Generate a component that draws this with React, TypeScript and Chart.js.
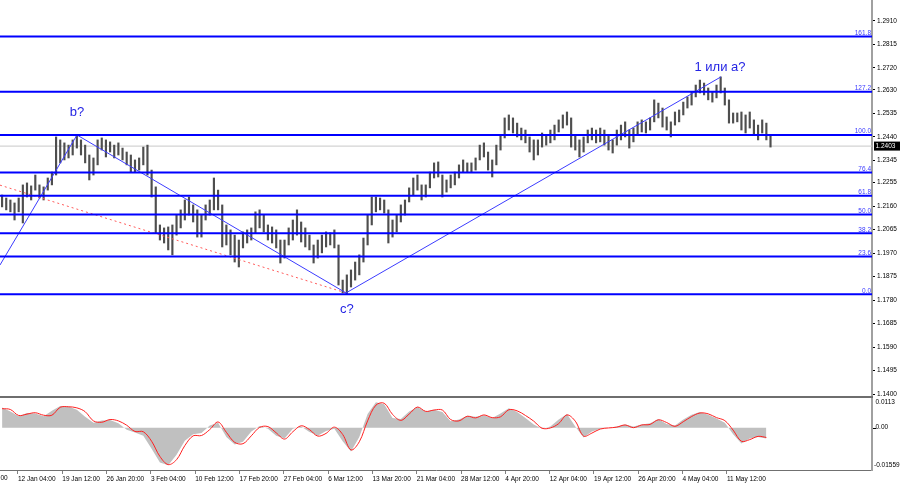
import React, { useEffect, useRef } from 'react';
import { Chart, registerables } from 'chart.js';

Chart.register(...registerables);

// ---- price data (H4 candles grouped by 3 bars): highs and lows ----
const candleHigh = [
  1.2205, 1.2193, 1.2185, 1.2173, 1.2193, 1.2246, 1.2254, 1.2242, 1.2286, 1.2246,
  1.2238, 1.2274, 1.2298, 1.2440, 1.2428, 1.2416, 1.2407, 1.2428, 1.2448, 1.2428,
  1.2407, 1.2367, 1.2355, 1.2428, 1.2436, 1.2428, 1.2420, 1.2407, 1.2416, 1.2395,
  1.2379, 1.2367, 1.2347, 1.2355, 1.2399, 1.2407, 1.2306, 1.2238, 1.2084, 1.2072,
  1.2076, 1.2084, 1.2124, 1.2145, 1.2185, 1.2197, 1.2165, 1.2145, 1.2124, 1.2165,
  1.2185, 1.2274, 1.2225, 1.2165, 1.2084, 1.2064, 1.2043, 1.2023, 1.2056, 1.2064,
  1.2072, 1.2137, 1.2145, 1.2124, 1.2084, 1.2076, 1.2064, 1.2023, 1.2023, 1.2072,
  1.2104, 1.2145, 1.2096, 1.2072, 1.2043, 1.2003, 1.2023, 1.2043, 1.2056, 1.2052,
  1.2064, 1.2003, 1.1861, 1.1882, 1.1902, 1.1934, 1.1963, 1.2031, 1.2124, 1.2197,
  1.2197, 1.2193, 1.2185, 1.2145, 1.2104, 1.2124, 1.2165, 1.2185, 1.2234, 1.2274,
  1.2286, 1.2246, 1.2246, 1.2298, 1.2335, 1.2339, 1.2286, 1.2266, 1.2286, 1.2298,
  1.2327, 1.2347, 1.2335, 1.2335, 1.2355, 1.2407, 1.2416, 1.2379, 1.2347, 1.2407,
  1.2448, 1.2517, 1.2529, 1.2517, 1.2496, 1.2476, 1.2468, 1.2440, 1.2428, 1.2428,
  1.2456, 1.2448, 1.2468, 1.2488, 1.2509, 1.2529, 1.2541, 1.2517, 1.2448, 1.2428,
  1.2440, 1.2468, 1.2476, 1.2468, 1.2476, 1.2468, 1.2448, 1.2428, 1.2468, 1.2488,
  1.2501, 1.2468, 1.2476, 1.2501, 1.2509, 1.2501, 1.2517, 1.2590, 1.2577, 1.2557,
  1.2521, 1.2501, 1.2541, 1.2549, 1.2581, 1.2602, 1.2622, 1.2650, 1.2670, 1.2658,
  1.2638, 1.2622, 1.2650, 1.2683, 1.2638, 1.2590, 1.2537, 1.2537, 1.2541, 1.2529,
  1.2541, 1.2509, 1.2488, 1.2509, 1.2496, 1.2448,
];
const candleLow = [
  1.2157, 1.2145, 1.2137, 1.2104, 1.2137, 1.2092, 1.2197, 1.2185, 1.2225, 1.2193,
  1.2185, 1.2225, 1.2246, 1.2286, 1.2335, 1.2347, 1.2355, 1.2367, 1.2395, 1.2367,
  1.2335, 1.2266, 1.2286, 1.2327, 1.2387, 1.2359, 1.2379, 1.2355, 1.2367, 1.2347,
  1.2327, 1.2298, 1.2298, 1.2306, 1.2327, 1.2286, 1.2197, 1.2052, 1.2023, 1.2011,
  1.1983, 1.1963, 1.2043, 1.2072, 1.2104, 1.2124, 1.2096, 1.2035, 1.2035, 1.2104,
  1.2124, 1.2145, 1.2145, 1.1995, 1.2003, 1.1963, 1.1934, 1.1914, 1.1991, 1.2011,
  1.2023, 1.2052, 1.2072, 1.2056, 1.2023, 1.2011, 1.1991, 1.1930, 1.1950, 1.2003,
  1.2023, 1.2043, 1.2015, 1.1995, 1.1983, 1.1930, 1.1950, 1.1971, 1.1995, 1.2003,
  1.1991, 1.1841, 1.1809, 1.1805, 1.1833, 1.1861, 1.1882, 1.1934, 1.2003, 1.2084,
  1.2137, 1.2145, 1.2132, 1.2011, 1.2035, 1.2056, 1.2096, 1.2124, 1.2177, 1.2205,
  1.2225, 1.2185, 1.2197, 1.2234, 1.2274, 1.2278, 1.2197, 1.2217, 1.2234, 1.2246,
  1.2274, 1.2298, 1.2298, 1.2298, 1.2306, 1.2347, 1.2359, 1.2306, 1.2278, 1.2327,
  1.2387, 1.2436, 1.2468, 1.2456, 1.2440, 1.2428, 1.2416, 1.2379, 1.2347, 1.2367,
  1.2399, 1.2407, 1.2416, 1.2428, 1.2460, 1.2476, 1.2488, 1.2399, 1.2387, 1.2359,
  1.2379, 1.2416, 1.2428, 1.2416, 1.2420, 1.2407, 1.2387, 1.2375, 1.2407, 1.2428,
  1.2440, 1.2395, 1.2420, 1.2448, 1.2460, 1.2456, 1.2468, 1.2501, 1.2517, 1.2480,
  1.2468, 1.2440, 1.2488, 1.2501, 1.2529, 1.2557, 1.2569, 1.2602, 1.2618, 1.2610,
  1.2590, 1.2581, 1.2598, 1.2618, 1.2569, 1.2496, 1.2496, 1.2501, 1.2468, 1.2456,
  1.2476, 1.2448, 1.2428, 1.2456, 1.2428, 1.2399,
];
const CANDLE_STEP = 3; // H4 bars per drawn candle

// ---- oscillator (histogram + signal), one value every 6 H4 bars ----
const oscHist = [
  0.0074, 0.0060, 0.0042, 0.0054, 0.0052, 0.0042, 0.0062, 0.0080, 0.0078, 0.0066,
  0.0040, 0.0018, 0.0026, 0.0028, 0.0016, -0.0008, -0.0018, -0.0030, -0.0078, -0.0128,
  -0.0138, -0.0100, -0.0048, -0.0024, -0.0020, 0.0008, 0.0018, -0.0034, -0.0062, -0.0052,
  -0.0014, 0.0006, -0.0004, -0.0030, -0.0040, -0.0004, 0.0004, -0.0016, -0.0030, -0.0012,
  -0.0004, -0.0050, -0.0088, -0.0034, 0.0050, 0.0094, 0.0086, 0.0036, 0.0032, 0.0060,
  0.0076, 0.0060, 0.0066, 0.0058, 0.0024, 0.0030, 0.0044, 0.0040, 0.0046, 0.0036,
  0.0052, 0.0072, 0.0058, 0.0036, 0.0012, -0.0004, 0.0004, 0.0030, 0.0050, 0.0004,
  -0.0036, -0.0014, -0.0004, 0.0000, 0.0004, 0.0012, 0.0004, 0.0012, 0.0016, 0.0032,
  0.0014, 0.0008, 0.0030, 0.0048, 0.0058, 0.0048, 0.0034, 0.0018, -0.0024, -0.0058,
  -0.0040, -0.0034, -0.0040,
];
const oscSignal = [
  0.0070, 0.0067, 0.0045, 0.0050, 0.0055, 0.0046, 0.0046, 0.0075, 0.0077, 0.0073,
  0.0059, 0.0025, 0.0020, 0.0030, 0.0025, 0.0009, -0.0014, -0.0015, -0.0050, -0.0106,
  -0.0136, -0.0118, -0.0066, -0.0030, -0.0029, -0.0007, 0.0021, -0.0017, -0.0054, -0.0059,
  -0.0030, 0.0001, 0.0004, -0.0019, -0.0042, -0.0015, 0.0007, -0.0007, -0.0031, -0.0021,
  0.0002, -0.0025, -0.0082, -0.0052, 0.0025, 0.0083, 0.0090, 0.0049, 0.0027, 0.0050,
  0.0076, 0.0060, 0.0065, 0.0065, 0.0030, 0.0025, 0.0042, 0.0036, 0.0047, 0.0037,
  0.0040, 0.0066, 0.0062, 0.0045, 0.0024, -0.0002, -0.0001, 0.0015, 0.0047, 0.0024,
  -0.0031, -0.0020, -0.0005, -0.0001, 0.0002, 0.0010, 0.0000, 0.0010, 0.0012, 0.0029,
  0.0019, 0.0005, 0.0022, 0.0041, 0.0054, 0.0051, 0.0037, 0.0026, -0.0009, -0.0050,
  -0.0044, -0.0032, -0.0036,
];
const OSC_STEP = 6;

// ---- axes ----
const X_MIN = 0;
const X_MAX = 629.8;
const xTickBars = [13, 45, 77, 109, 141, 173, 205, 237, 269, 301, 333, 365, 397, 429, 461, 493, 525];
const xTickLabels = [
  '12 Jan 04:00', '19 Jan 12:00', '26 Jan 20:00', '3 Feb 04:00', '10 Feb 12:00', '17 Feb 20:00',
  '27 Feb 04:00', '6 Mar 12:00', '13 Mar 20:00', '21 Mar 04:00', '28 Mar 12:00', '4 Apr 20:00',
  '12 Apr 04:00', '19 Apr 12:00', '26 Apr 20:00', '4 May 04:00', '11 May 12:00',
];
const xPartialBar = -19;
const xPartialLabel = '4 Jan 20:00';
const Y_MIN = 1.1388;
const Y_MAX = 1.2994;
const yTicks = [
  1.1400, 1.1495, 1.1590, 1.1685, 1.1780, 1.1875, 1.1970, 1.2065, 1.2160,
  1.2255, 1.2345, 1.2440, 1.2535, 1.2630, 1.2720, 1.2815, 1.2910,
];
const OSC_MIN = -0.01559;
const OSC_MAX = 0.0113;
const oscTickLabels = ['0.0113', '0.00', '-0.01559'];

// ---- fibonacci grid ----
const fibLow = 1.1804;
const fibHigh = 1.2448;
const fibLevels = [0, 23.6, 38.2, 50, 61.8, 76.4, 100, 127.2, 161.8];
const fibLabels = ['0.0', '23.6', '38.2', '50.0', '61.8', '76.4', '100.0', '127.2', '161.8'];

// ---- wave lines and marks ----
const waveX = [0, 55.6, 249.9, 520.7];
const waveY = [1.1922, 1.2448, 1.1809, 1.2683];
const trendX = [0, 249.9];
const trendY = [1.2245, 1.1809];
const lastPrice = 1.2403;
const markTexts = ['b?', 'c?', '1 или a?'];
const markX = [55.6, 250.6, 520];
const markY = [1.2541, 1.1744, 1.2723];

const FONT = '"Liberation Sans", Arial, sans-serif';

const decorPlugin = {
  id: 'decor',
  afterDraw(chart: any) {
    const { ctx, chartArea } = chart;
    const x = chart.scales.x;
    const y = chart.scales.y;
    const y2 = chart.scales.y2;
    ctx.save();

    // fib labels
    ctx.font = `6.5px ${FONT}`;
    ctx.fillStyle = '#3a3aff';
    ctx.textAlign = 'right';
    ctx.textBaseline = 'alphabetic';
    fibLevels.forEach((r, i) => {
      const p = fibLow + (r / 100) * (fibHigh - fibLow);
      const py = y.getPixelForValue(p);
      ctx.fillText(fibLabels[i], chartArea.right - 1, py - 1.5);
    });

    // panel separator
    ctx.fillStyle = '#6e6e6e';
    ctx.fillRect(0, y.bottom - 1, chartArea.right + 1, 2);

    // last price box
    const lp = y.getPixelForValue(lastPrice);
    ctx.fillStyle = '#000';
    ctx.fillRect(chartArea.right + 2, lp - 4.5, 26, 9);
    ctx.fillStyle = '#fff';
    ctx.textAlign = 'left';
    ctx.textBaseline = 'middle';
    ctx.font = `6.5px ${FONT}`;
    ctx.fillText(lastPrice.toFixed(4), chartArea.right + 3.5, lp + 0.5);

    // oscillator axis labels
    ctx.fillStyle = '#000';
    const oy = [y2.top + 5, y2.getPixelForValue(0), y2.bottom - 4.5];
    oscTickLabels.forEach((t, i) => {
      ctx.fillText(t, chartArea.right + (i === 2 ? 2 : 3.5), oy[i]);
    });
    ctx.fillRect(chartArea.right + 1, Math.round(oy[1]), 3, 1);

    // partial x label at the left edge
    ctx.textBaseline = 'top';
    ctx.fillText(xPartialLabel, x.getPixelForValue(xPartialBar), chartArea.bottom + 5);

    // wave marks
    ctx.font = `13px ${FONT}`;
    ctx.fillStyle = 'rgb(36,36,228)';
    ctx.textAlign = 'center';
    ctx.textBaseline = 'middle';
    markTexts.forEach((t, i) => {
      ctx.fillText(t, x.getPixelForValue(markX[i]), y.getPixelForValue(markY[i]));
    });
    ctx.restore();
  },
};

export default function App() {
  const ref = useRef<HTMLCanvasElement | null>(null);

  useEffect(() => {
    document.body.style.margin = '0';
    if (!ref.current) return;

    const candleData = candleHigh.map((h, i) => ({
      x: CANDLE_STEP * i + CANDLE_STEP / 2,
      y: [candleLow[i], h],
    }));
    const histData = oscHist.map((v, j) => ({ x: OSC_STEP * j + CANDLE_STEP / 2, y: v }));
    const sigData = oscSignal.map((v, j) => ({ x: OSC_STEP * j + CANDLE_STEP / 2, y: v }));

    const fibSets = fibLevels.map((r) => {
      const p = fibLow + (r / 100) * (fibHigh - fibLow);
      return {
        type: 'line' as const,
        data: [{ x: X_MIN, y: p }, { x: X_MAX, y: p }],
        borderColor: '#0000ff',
        borderWidth: 2,
        pointRadius: 0,
        yAxisID: 'y',
        order: 1,
      };
    });

    const chart = new Chart(ref.current, {
      type: 'bar',
      data: {
        datasets: [
          {
            type: 'bar',
            data: candleData as any,
            backgroundColor: '#4e4e4e',
            borderWidth: 0,
            barThickness: 1.5,
            grouped: false,
            yAxisID: 'y',
            order: 5,
          } as any,
          {
            type: 'line',
            data: [{ x: X_MIN, y: lastPrice }, { x: X_MAX, y: lastPrice }],
            borderColor: '#c8c8c8',
            borderWidth: 1,
            pointRadius: 0,
            yAxisID: 'y',
            order: 8,
          },
          ...fibSets,
          {
            type: 'line',
            data: waveX.map((v, i) => ({ x: v, y: waveY[i] })),
            borderColor: '#3c3cff',
            borderWidth: 1,
            pointRadius: 0,
            yAxisID: 'y',
            order: 2,
          },
          {
            type: 'line',
            data: trendX.map((v, i) => ({ x: v, y: trendY[i] })),
            borderColor: '#ff5a5a',
            borderWidth: 1,
            borderDash: [2, 3],
            pointRadius: 0,
            yAxisID: 'y',
            order: 2,
          },
          {
            type: 'line',
            data: histData,
            borderWidth: 0,
            borderColor: 'rgba(0,0,0,0)',
            backgroundColor: '#c0c0c0',
            fill: 'origin',
            pointRadius: 0,
            yAxisID: 'y2',
            order: 7,
          },
          {
            type: 'line',
            data: sigData,
            borderColor: '#ff2020',
            borderWidth: 1,
            tension: 0.35,
            pointRadius: 0,
            fill: false,
            yAxisID: 'y2',
            order: 6,
          },
        ] as any,
      },
      options: {
        responsive: false,
        devicePixelRatio: 1,
        animation: false,
        events: [],
        layout: { padding: 0 },
        plugins: { legend: { display: false }, tooltip: { enabled: false } },
        scales: {
          x: {
            type: 'linear',
            min: X_MIN,
            max: X_MAX,
            offset: false,
            afterBuildTicks: (s: any) => {
              s.ticks = xTickBars.map((v) => ({ value: v }));
            },
            afterFit: (s: any) => {
              s.height = 15;
              s.paddingLeft = 0;
              s.paddingRight = 0;
            },
            ticks: {
              autoSkip: false,
              maxRotation: 0,
              minRotation: 0,
              align: 'start',
              padding: 1,
              color: '#000',
              font: { size: 6.5, family: FONT },
              callback: (_v: any, i: number) => xTickLabels[i] ?? '',
            },
            grid: { drawOnChartArea: false, drawTicks: true, tickLength: 4, color: '#808080', offset: false },
            border: { display: true, color: '#707070', width: 1 },
          },
          y: {
            type: 'linear',
            position: 'right',
            stack: 'panes',
            stackWeight: 397,
            min: Y_MIN,
            max: Y_MAX,
            afterBuildTicks: (s: any) => {
              s.ticks = yTicks.map((v) => ({ value: v }));
            },
            afterFit: (s: any) => {
              s.width = 28;
              s.paddingTop = 0;
              s.paddingBottom = 0;
            },
            ticks: {
              color: '#000',
              padding: 2,
              font: { size: 6.5, family: FONT },
              callback: (v: any) => Number(v).toFixed(4),
            },
            grid: { drawOnChartArea: false, drawTicks: true, tickLength: 3, color: '#000' },
            border: { display: true, color: '#a0a0a0', width: 2 },
          },
          y2: {
            type: 'linear',
            position: 'right',
            stack: 'panes',
            stackWeight: 73,
            min: OSC_MIN,
            max: OSC_MAX,
            afterFit: (s: any) => {
              s.width = 28;
              s.paddingTop = 0;
              s.paddingBottom = 0;
            },
            ticks: { display: false },
            grid: { drawOnChartArea: false, drawTicks: false },
            border: { display: true, color: '#a0a0a0', width: 2 },
          },
        } as any,
      },
      plugins: [decorPlugin],
    });
    return () => chart.destroy();
  }, []);

  return (
    <div style={{ width: 900, height: 485, background: '#fff', position: 'relative' }}>
      <canvas ref={ref} width={900} height={485} style={{ display: 'block' }} />
    </div>
  );
}
